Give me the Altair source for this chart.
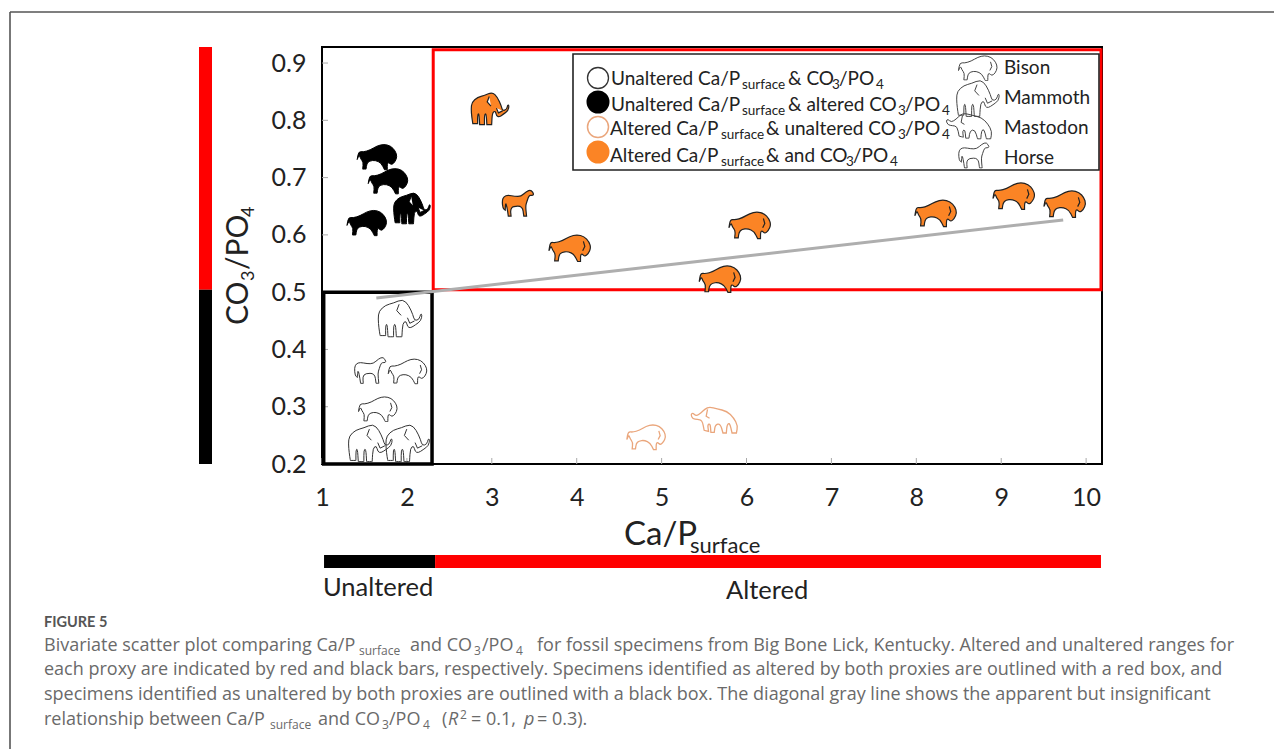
import altair as alt
import pandas as pd

# ---------- data ----------
specimen_species = ["bison", "bison", "bison", "mammoth",
                    "mammoth", "horse", "bison", "bison", "mammoth", "mammoth",
                    "bison", "mastodon",
                    "mammoth", "horse", "bison", "bison", "bison", "bison", "bison", "bison"]
specimen_class = ["co3", "co3", "co3", "co3",
                  "none", "none", "none", "none", "none", "none",
                  "ca", "ca",
                  "both", "both", "both", "both", "both", "both", "both", "both"]
ca_p = [1.65, 1.78, 1.53, 2.06,
        1.92, 1.57, 2.01, 1.66, 1.57, 2.01,
        4.82, 5.62,
        2.98, 3.31, 3.92, 6.04, 5.69, 8.23, 9.15, 9.75]
co3_po4 = [0.736, 0.694, 0.621, 0.647,
           0.455, 0.364, 0.362, 0.296, 0.237, 0.237,
           0.247, 0.277,
           0.821, 0.656, 0.577, 0.617, 0.523, 0.638, 0.668, 0.654]
trend_x = [1.64, 9.73]
trend_y = [0.49, 0.626]
x_ticks = [1, 2, 3, 4, 5, 6, 7, 8, 9, 10]
y_ticks = [0.2, 0.3, 0.4, 0.5, 0.6, 0.7, 0.8, 0.9]
x_limits = [1, 10.187]
y_limits = [0.2, 0.928]

# ---------- layout ----------
LEFT, TOP = 322, 47
W, H = 780, 417
FONT = "Lato"
CAP_FONT = "Open Sans"
RED, BLACK = "#ff0000", "#000000"
ORANGE, PALE = "#fb8425", "#eaa67c"


def px(v):
    return v - LEFT


def py(v):
    return v - TOP


xs = alt.Scale(domain=x_limits, nice=False, zero=False)
ys = alt.Scale(domain=y_limits, nice=False, zero=False)
x_axis = alt.Axis(values=x_ticks, format="d", labelFont=FONT, labelFontSize=25, labelColor="#222",
                  ticks=False, domain=False, grid=False, labelPadding=21, title=None, labelFlush=False)
y_axis = alt.Axis(values=y_ticks, format=".1f", labelFont=FONT, labelFontSize=25, labelColor="#222",
                  ticks=False, domain=False, grid=False, labelPadding=16, title=None)


def X(field=None, datum=None):
    if datum is not None:
        return alt.X(datum=datum, type="quantitative", scale=xs, axis=x_axis)
    return alt.X(field, type="quantitative", scale=xs, axis=x_axis)


def Y(field=None, datum=None):
    if datum is not None:
        return alt.Y(datum=datum, type="quantitative", scale=ys, axis=y_axis)
    return alt.Y(field, type="quantitative", scale=ys, axis=y_axis)


# ---------- animal outlines ----------
def make_path(pts, details=()):
    xv = [p[0] for p in pts]
    yv = [p[1] for p in pts]
    cx, cy = (min(xv) + max(xv)) / 2, (min(yv) + max(yv)) / 2
    hw = (max(xv) - min(xv)) / 2
    raw = []
    for p in pts:
        raw.append(p[:2])
        if len(p) == 3:          # a third element marks a sharp corner
            raw.append(p[:2])
    q = [((a - cx) / hw, (b - cy) / hw) for a, b in raw]
    n = len(q)
    mid = lambda i: ((q[i][0] + q[(i + 1) % n][0]) / 2, (q[i][1] + q[(i + 1) % n][1]) / 2)
    m0 = mid(n - 1)
    d = f"M{m0[0]:.3f},{m0[1]:.3f}"
    for i in range(n):
        m = mid(i)
        d += f"Q{q[i][0]:.3f},{q[i][1]:.3f} {m[0]:.3f},{m[1]:.3f}"
    d += "Z"
    for line in details:
        l = [((a - cx) / hw, (b - cy) / hw) for a, b in line]
        d += f"M{l[0][0]:.3f},{l[0][1]:.3f}"
        for a, b in l[1:]:
            d += f"L{a:.3f},{b:.3f}"
    return d


BISON = make_path([(116, 66), (130, 68), (150, 62), (170, 50), (190, 45), (210, 50), (224, 65),
                   (229, 82), (222, 98), (212, 106), (204, 98), (200, 102), (200, 120, 1), (192, 120, 1),
                   (182, 100), (165, 92), (148, 94), (140, 102), (138, 118, 1), (128, 118, 1), (130, 98),
                   (122, 88), (118, 76), (112, 90, 1)],
                  details=[[(208, 64), (212, 78), (206, 90)]])
MAMMOTH = make_path([(226, 235), (228, 215), (245, 200), (265, 195), (288, 185), (303, 200), (314, 225), (318, 240),
                     (330, 236), (333, 222), (337, 224), (334, 240), (320, 250), (308, 258), (300, 255), (297, 240),
                     (288, 245), (286, 280, 1), (272, 280, 1), (270, 248), (265, 250), (265, 280, 1), (251, 280, 1),
                     (249, 248), (245, 250), (245, 277, 1), (231, 277, 1), (228, 258)],
                    details=[[(279, 198), (273, 214), (284, 226)], [(300, 232), (306, 246), (318, 240)]])
HORSE = make_path([(108, 712), (113, 700), (125, 696), (145, 700), (163, 700), (178, 686), (192, 680), (201, 695),
                   (194, 697), (186, 697), (180, 715), (176, 728), (179, 757, 1), (171, 757, 1), (167, 728),
                   (140, 728), (132, 738), (134, 757, 1), (126, 757, 1), (122, 730), (118, 718), (117, 740, 1),
                   (110, 735)])
MASTODON = make_path([(212, 45), (218, 40), (228, 50), (243, 40), (255, 28), (268, 22), (290, 28), (320, 35),
                      (340, 55), (352, 78), (348, 100, 1), (335, 100, 1), (328, 70), (320, 75), (318, 100, 1),
                      (308, 100, 1), (300, 72), (285, 75), (282, 98, 1), (272, 98, 1), (270, 72), (262, 75),
                      (265, 95, 1), (252, 92, 1), (246, 62), (232, 60), (218, 58)],
                     details=[[(262, 30), (258, 50), (268, 56)]])
ICONS = {"bison": BISON, "mammoth": MAMMOTH, "horse": HORSE, "mastodon": MASTODON}

ICON_W = {("bison", "co3"): 40, ("mammoth", "co3"): 37,
          ("bison", "none"): 39, ("mammoth", "none"): 44, ("horse", "none"): 32,
          ("bison", "ca"): 39, ("mastodon", "ca"): 47,
          ("bison", "both"): 42, ("mammoth", "both"): 38, ("horse", "both"): 32}
CLASS_STYLE = {
    "none": dict(filled=False, stroke="#333", strokeWidth=1),
    "co3": dict(filled=True, fill="#000", stroke="#000", strokeWidth=1),
    "ca": dict(filled=False, stroke=PALE, strokeWidth=1.3),
    "both": dict(filled=True, fill=ORANGE, stroke="#222", strokeWidth=1.2),
}


def T(text, x, y, size, angle=None, **kw):
    props = dict(align="left", baseline="alphabetic", font=kw.pop("font", FONT), fontSize=size,
                 color=kw.pop("color", "#222"))
    if angle is not None:
        props["angle"] = angle
    props.update(kw)
    return alt.Chart().mark_text(**props).encode(x=alt.value(px(x)), y=alt.value(py(y)), text=alt.value(text))


# ---------- frame, bars, boxes ----------
df = pd.DataFrame({"species": specimen_species, "cls": specimen_class, "ca": ca_p, "co3": co3_po4})
trend = pd.DataFrame({"ca": trend_x, "co3": trend_y})
layers = []

base_ticks = pd.DataFrame({"v": x_ticks})
layers.append(alt.Chart(base_ticks).mark_rule(color="#aaa", strokeWidth=1).encode(
    x=X("v"), y=alt.value(H - 6), y2=alt.value(H)))
layers.append(alt.Chart(pd.DataFrame({"v": y_ticks})).mark_rule(color="#aaa", strokeWidth=1).encode(
    y=Y("v"), x=alt.value(0), x2=alt.value(6)))

FRAME = "#555"
layers.append(alt.Chart().mark_rule(color=FRAME, strokeWidth=1.6).encode(
    x=alt.value(px(10)), x2=alt.value(px(1282)), y=alt.value(py(12))))
layers.append(alt.Chart().mark_rule(color=FRAME, strokeWidth=1.6).encode(
    x=alt.value(px(10)), y=alt.value(py(12)), y2=alt.value(py(749))))

# proxy range bars
layers.append(alt.Chart().mark_rect(color=RED).encode(
    x=alt.value(px(199)), x2=alt.value(px(212)), y=Y(datum=0.504), y2=alt.Y2(datum=0.928)))
layers.append(alt.Chart().mark_rect(color=BLACK).encode(
    x=alt.value(px(199)), x2=alt.value(px(212)), y=Y(datum=0.2), y2=alt.Y2(datum=0.504)))
layers.append(alt.Chart().mark_rect(color=BLACK).encode(
    x=X(datum=1.024), x2=alt.X2(datum=2.332), y=alt.value(py(555)), y2=alt.value(py(568))))
layers.append(alt.Chart().mark_rect(color=RED).encode(
    x=X(datum=2.332), x2=alt.X2(datum=10.175), y=alt.value(py(555)), y2=alt.value(py(568))))

# status boxes
layers.append(alt.Chart().mark_rect(fillOpacity=0, stroke=RED, strokeWidth=3).encode(
    x=X(datum=2.31), x2=alt.X2(datum=10.175), y=Y(datum=0.504), y2=alt.Y2(datum=0.923)))
layers.append(alt.Chart().mark_rect(fillOpacity=0, stroke=BLACK, strokeWidth=3.5).encode(
    x=X(datum=1.02), x2=alt.X2(datum=2.296), y=Y(datum=0.2), y2=alt.Y2(datum=0.5)))

# trend
layers.append(alt.Chart(trend).mark_line(color="#aeaeae", strokeWidth=3).encode(x=X("ca"), y=Y("co3")))

# specimens
for (sp, cl), w in ICON_W.items():
    sub = df[(df.species == sp) & (df.cls == cl)]
    layers.append(alt.Chart(sub).mark_point(shape=ICONS[sp], size=w * w, opacity=1, **CLASS_STYLE[cl]).encode(
        x=X("ca"), y=Y("co3")))

# ---------- legend ----------
layers.append(alt.Chart().mark_rect(fill="white", stroke="#222", strokeWidth=1.6).encode(
    x=alt.value(px(573)), x2=alt.value(px(1099)), y=alt.value(py(54)), y2=alt.value(py(170))))

circle_y = [78, 102, 127, 152]
circle_cls = ["none", "co3", "ca", "both"]
circle_style = {
    "none": dict(filled=False, stroke="#333", strokeWidth=1.3),
    "co3": dict(filled=True, fill="#000", stroke="#000"),
    "ca": dict(filled=False, stroke=PALE, strokeWidth=1.5),
    "both": dict(filled=True, fill=ORANGE, stroke=ORANGE),
}
for c, yy in zip(circle_cls, circle_y):
    layers.append(alt.Chart().mark_point(shape="circle", size=21 * 21, opacity=1, **circle_style[c]).encode(
        x=alt.value(px(598)), y=alt.value(py(yy))))

LS, LSUB = 19, 13.5
legend_rows = [
    (85, [("Unaltered Ca/P", 611, LS, 0), ("surface", 742, LSUB, 4), ("& CO", 788, LS, 0), ("3", 832, LSUB, 4),
          ("/PO", 839, LS, 0), ("4", 876, LSUB, 4)]),
    (111, [("Unaltered Ca/P", 611, LS, 0), ("surface", 742, LSUB, 4), ("& altered CO", 788, LS, 0),
           ("3", 898, LSUB, 4), ("/PO", 905, LS, 0), ("4", 942, LSUB, 4)]),
    (135, [("Altered Ca/P", 610, LS, 0), ("surface", 721, LSUB, 4), ("& unaltered CO", 766, LS, 0),
           ("3", 898, LSUB, 4), ("/PO", 905, LS, 0), ("4", 942, LSUB, 4)]),
    (162, [("Altered Ca/P", 610, LS, 0), ("surface", 721, LSUB, 4), ("& and CO", 766, LS, 0),
           ("3", 846, LSUB, 4), ("/PO", 853, LS, 0), ("4", 890, LSUB, 4)]),
]
for base, segs in legend_rows:
    for txt, xx, sz, dy in segs:
        layers.append(T(txt, xx, base + dy, sz))

for sp, cx, cy, w, stroke in [("bison", 978, 68, 39, "#444"), ("mammoth", 978, 98, 43, "#444"),
                              ("mastodon", 969, 126, 46, "#444"), ("horse", 974, 155, 31, "#444")]:
    layers.append(alt.Chart().mark_point(shape=ICONS[sp], size=w * w, filled=False, stroke=stroke, strokeWidth=1,
                                         opacity=1).encode(x=alt.value(px(cx)), y=alt.value(py(cy))))
for name, yy in [("Bison", 74), ("Mammoth", 104), ("Mastodon", 134), ("Horse", 164)]:
    layers.append(T(name, 1004, yy, 19))

# ---------- axis titles ----------
layers.append(T("Ca/P", 624, 545, 33))
layers.append(T("surface", 690, 553, 22))
layers.append(T("CO", 248, 325, 30, angle=270))
layers.append(T("3", 254, 281, 18, angle=270))
layers.append(T("/PO", 248, 270, 30, angle=270))
layers.append(T("4", 254, 217, 18, angle=270))
layers.append(T("Unaltered", 323, 596, 25.5))
layers.append(T("Altered", 726, 599, 25.5))

# ---------- caption ----------
CAP = "#6a6a6a"
CS, CSUB = 18, 12
layers.append(T("FIGURE 5", 44, 627, 14.5, color="#555", fontWeight=700))
caption = [
    (651, [("Bivariate scatter plot comparing Ca/P", 44, CS, 0), ("surface", 359, CSUB, 4), ("and CO", 410, CS, 0),
           ("3", 474, CSUB, 4), ("/PO", 482, CS, 0), ("4", 516, CSUB, 4),
           ("for fossil specimens from Big Bone Lick, Kentucky. Altered and unaltered ranges for", 537, CS, 0)]),
    (675, [("each proxy are indicated by red and black bars, respectively. Specimens identified as altered by both proxies are outlined with a red box, and", 44, CS, 0)]),
    (700, [("specimens identified as unaltered by both proxies are outlined with a black box. The diagonal gray line shows the apparent but insignificant", 44, CS, 0)]),
    (725, [("relationship between Ca/P", 44, CS, 0), ("surface", 270, CSUB, 4), ("and CO", 318, CS, 0),
           ("3", 382, CSUB, 4), ("/PO", 389, CS, 0), ("4", 423, CSUB, 4), ("(", 442, CS, 0)]),
]
for base, segs in caption:
    for txt, xx, sz, dy in segs:
        layers.append(T(txt, xx, base + dy, sz, color=CAP, font=CAP_FONT))
layers.append(T("R", 448, 725, CS, color=CAP, fontStyle="italic", font=CAP_FONT))
layers.append(T("2", 460, 719, CSUB, color=CAP, font=CAP_FONT))
layers.append(T("= 0.1,", 471, 725, CS, color=CAP, font=CAP_FONT))
layers.append(T("p", 524, 725, CS, color=CAP, fontStyle="italic", font=CAP_FONT))
layers.append(T("= 0.3).", 537, 725, CS, color=CAP, font=CAP_FONT))

chart = alt.layer(*layers).properties(
    width=W, height=H,
    padding={"left": LEFT - 8, "top": TOP - 8, "right": 1282 - 16 - (LEFT - 8) - W, "bottom": 749 - 8 - (TOP - 8) - H},
    autosize=alt.AutoSizeParams(type="none"),
    background="white",
).configure_view(stroke="black", strokeWidth=2)

chart.save("out.html", embed_options={"renderer": "svg", "actions": False})
